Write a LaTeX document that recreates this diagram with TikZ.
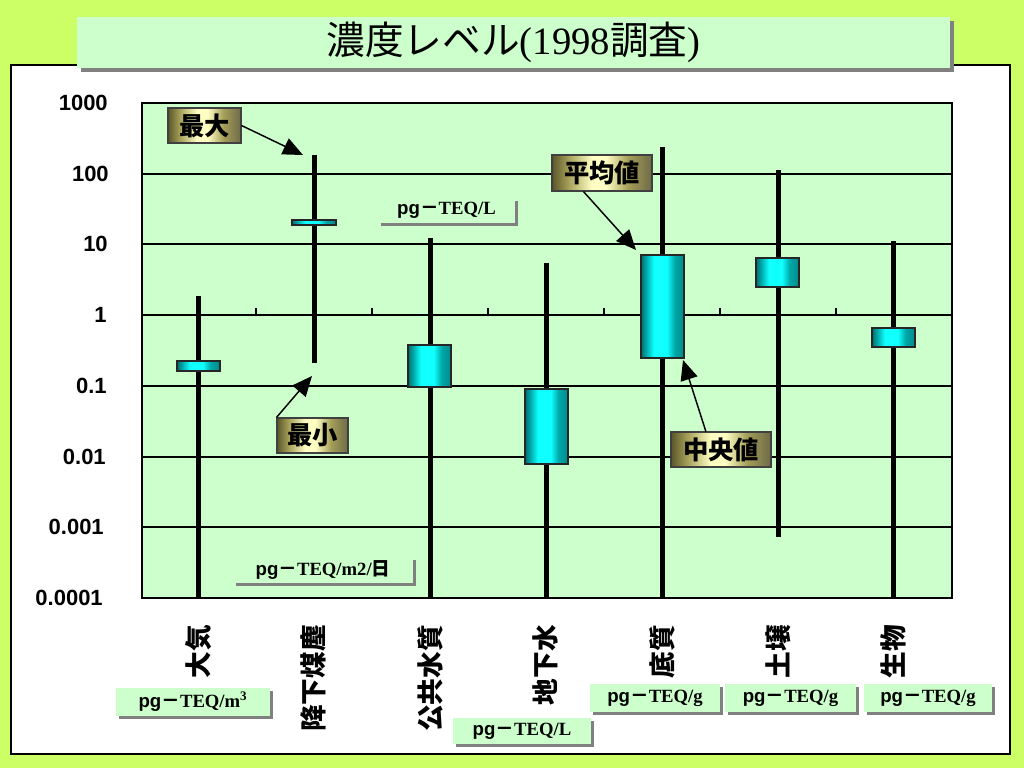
\documentclass[tikz,border=0pt]{standalone}
\usepackage{fontspec}
\setmainfont{Liberation Sans}
\newfontfamily\jp{Noto Sans CJK JP}
\newfontfamily\tms{Liberation Serif}
\usetikzlibrary{arrows.meta,shadows}
\definecolor{bgy}{HTML}{CCFF66}
\definecolor{pale}{HTML}{CCFFCC}
\definecolor{tealD}{HTML}{006E70}
\definecolor{tealM}{HTML}{00A8A8}
\definecolor{cyanB}{HTML}{10FFFF}
\definecolor{tealR}{HTML}{008A8C}
\definecolor{goldD}{HTML}{5A5628}
\definecolor{goldM}{HTML}{A49E58}
\definecolor{goldL}{HTML}{FFFFC4}
\definecolor{goldR}{HTML}{6E6A48}
\pgfdeclarehorizontalshading{cyanbar}{100bp}{color(0bp)=(tealD); color(25bp)=(tealD); color(31bp)=(tealM); color(40bp)=(cyanB); color(55bp)=(cyanB); color(64bp)=(tealM); color(75bp)=(tealR); color(100bp)=(tealR)}
\pgfdeclarehorizontalshading{goldbar}{100bp}{color(0bp)=(goldD); color(25bp)=(goldD); color(33bp)=(goldM); color(45bp)=(goldL); color(52bp)=(goldL); color(63bp)=(goldM); color(75bp)=(goldR); color(100bp)=(goldR)}
\tikzset{
  grid/.style={line width=1.1pt, black},
  whisker/.style={line width=3.75pt, black},
  cbox/.style={shading=cyanbar, draw=black!85, line width=0.8pt},
  lbl/.style={shading=goldbar, draw=black!75, line width=0.8pt, inner sep=0pt,
    font=\jp\bfseries\fontsize{19}{22}\selectfont},
  arr/.style={line width=1.1pt, -{Triangle[length=15pt,width=13pt]}},
  unitbox/.style={fill=pale, inner sep=0pt,
    general shadow={fill=gray, shadow xshift=2.4pt, shadow yshift=-2.4pt},
    font=\bfseries\fontsize{14}{16}\selectfont},
  ylab/.style={anchor=east, inner sep=0pt, font=\bfseries\fontsize{16.5}{20}\selectfont},
  cat/.style={rotate=90, anchor=east, inner sep=0pt, font=\jp\bfseries\fontsize{20}{22}\selectfont}
}
\newcommand{\unittext}[1]{pg{\jp\bfseries －}{\tms\bfseries #1}}
\begin{document}
\begin{tikzpicture}[x=0.75pt,y=-0.75pt]
\fill[bgy] (0,0) rectangle (1024,768);
\useasboundingbox (0,0) rectangle (1024,768);
% outer frame
\draw[line width=1.5pt, fill=white] (11,65) rectangle (1010,754);
% title
\node[fill=pale, inner sep=0pt, minimum width=654.75pt, minimum height=38.25pt,
  general shadow={fill=gray, shadow xshift=3pt, shadow yshift=-3pt},
  font=\fontsize{29}{32}\selectfont] (title) at (513.5,42.5)
  {{\jp 濃度レベル}{\tms (1998}{\jp 調査}{\tms )}};
% plot area
\fill[pale] (142,103) rectangle (952,598);
\foreach \yy in {174,244,315,386,457,527} \draw[grid] (142,\yy) -- (952,\yy);
\foreach \xx in {256,372,488,604,720,836} \draw[line width=0.9pt] (\xx,315) -- (\xx,308);
\draw[grid] (142,103) rectangle (952,598);
% y labels
\node[ylab] (y1000) at (108,103) {1000};
\node[ylab] (y100) at (109,174) {100};
\node[ylab] (y10) at (108,244) {10};
\node[ylab] (y1) at (107,315) {1};
\node[ylab] (y01) at (107,386) {0.1};
\node[ylab] (y001) at (106,457) {0.01};
\node[ylab] (y0001) at (104,527) {0.001};
\node[ylab] (y00001) at (103,598) {0.0001};
% whiskers
\draw[whisker] (198.5,296) -- (198.5,598);
\draw[whisker] (314,155) -- (314,363);
\draw[whisker] (430,238) -- (430,598);
\draw[whisker] (546.5,263) -- (546.5,598);
\draw[whisker] (662.5,147) -- (662.5,598);
\draw[whisker] (778,170) -- (778,537);
\draw[whisker] (893.5,241) -- (893.5,598);
% boxes
\draw[cbox] (177,361) rectangle (220,371);
\draw[cbox] (292,220) rectangle (336,225);
\draw[cbox] (408,345) rectangle (451,387);
\draw[cbox] (525,389) rectangle (568,464);
\draw[cbox] (641,255) rectangle (684,358);
\draw[cbox] (756,258) rectangle (799,287);
\draw[cbox] (872,328) rectangle (915,347);
% annotation labels
\node[lbl, minimum width=54.75pt, minimum height=26.25pt] (maxlbl) at (204.5,125.5) {最大};
\node[lbl, minimum width=53.25pt, minimum height=26.25pt] (minlbl) at (312.5,435.5) {最小};
\node[lbl, minimum width=75pt, minimum height=27pt] (avglbl) at (602,173) {平均値};
\node[lbl, minimum width=75pt, minimum height=26.25pt] (medlbl) at (721,449.5) {中央値};
\coordinate (maxtip) at (303,155);
\coordinate (mintip) at (312,376);
\coordinate (avgtip) at (636,250);
\coordinate (medtip) at (683,360);
\draw[arr] (maxlbl.east) -- (maxtip);
\draw[arr] (minlbl.north west) -- (mintip);
\draw[arr] (avglbl.-135) -- (avgtip);
\draw[arr] (medlbl.130) -- (medtip);
% unit boxes
\node[unitbox, minimum width=102.75pt, minimum height=18.75pt] (uL1) at (446.5,210.5) {\unittext{TEQ/L}};
\node[unitbox, minimum width=135pt, minimum height=19.5pt] (uM2) at (323,570) {pg{\jp\bfseries －}{\tms\bfseries TEQ/m2/}{\jp\bfseries 日}};
\node[unitbox, minimum width=115.5pt, minimum height=21pt] (uM3) at (193,702) {\unittext{TEQ/m\textsuperscript{3}}};
\node[unitbox, minimum width=103.5pt, minimum height=19.5pt] (uL2) at (522,731) {\unittext{TEQ/L}};
\node[unitbox, minimum width=97.5pt, minimum height=21pt] (uG1) at (655,698) {\unittext{TEQ/g}};
\node[unitbox, minimum width=98.25pt, minimum height=21pt] (uG2) at (790.5,698) {\unittext{TEQ/g}};
\node[unitbox, minimum width=96pt, minimum height=21pt] (uG3) at (928,698) {\unittext{TEQ/g}};
% category labels
\node[cat] (c1) at (198.5,625) {大気};
\node[cat] (c2) at (313,625) {降下煤塵};
\node[cat] (c3) at (430,625) {公共水質};
\node[cat] (c4) at (545.5,625) {地下水};
\node[cat] (c5) at (662,625) {底質};
\node[cat] (c6) at (778,625) {土壌};
\node[cat] (c7) at (893,625) {生物};
\end{tikzpicture}
\end{document}
